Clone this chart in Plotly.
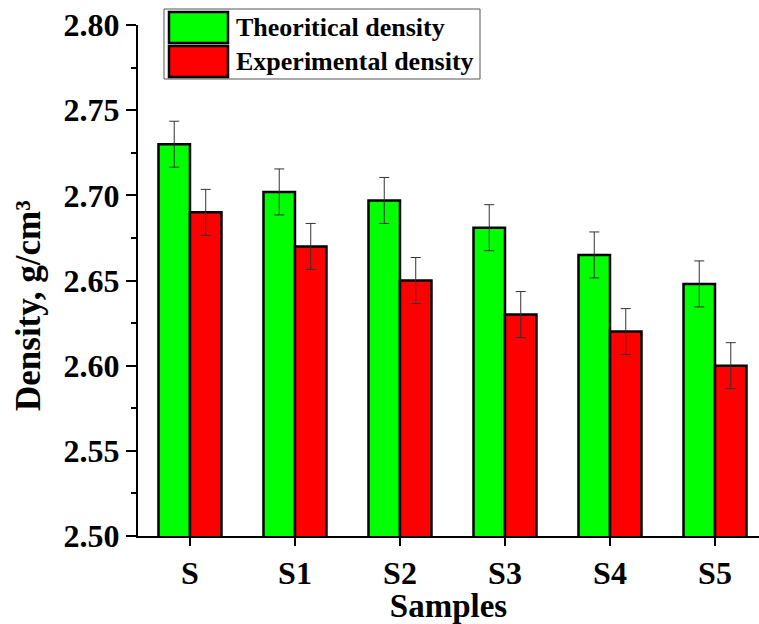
import plotly.graph_objects as go

samples = ["S", "S1", "S2", "S3", "S4", "S5"]
theoretical = [2.730, 2.702, 2.697, 2.681, 2.665, 2.648]
experimental = [2.690, 2.670, 2.650, 2.630, 2.620, 2.600]
theo_err = [0.0135, 0.0135, 0.0135, 0.0135, 0.0135, 0.0135]
exp_err = [0.0135, 0.0135, 0.0135, 0.0135, 0.0135, 0.0135]
series_names = ["Theoritical density", "Experimental density"]
colors = ["#00ff00", "#ff0000"]
y_title = "Density, g/cm³"

FONT = "Liberation Serif"

fig = go.Figure()
for name, vals, errs, col in zip(series_names, [theoretical, experimental], [theo_err, exp_err], colors):
    fig.add_trace(go.Bar(
        x=list(range(len(samples))), y=vals, name=name,
        marker=dict(color=col, line=dict(color="black", width=2.5)),
        error_y=dict(type="data", array=errs, visible=True, color="#333333", thickness=1, width=5),
        showlegend=False,
    ))

fig.update_layout(
    width=759, height=624,
    margin=dict(l=138, r=0, t=25, b=88),
    paper_bgcolor="white", plot_bgcolor="white",
    barmode="group", bargap=0.4, bargroupgap=0,
    font=dict(family=FONT, color="black"),
)
fig.update_xaxes(
    range=[-0.495, 5.419],
    tickmode="array", tickvals=list(range(len(samples))), ticktext=samples,
    showline=True, linecolor="black", linewidth=2,
    ticks="outside", ticklen=8, tickwidth=2, tickcolor="black",
    tickfont=dict(family=FONT, size=32, weight="bold"),
    title=dict(text="Samples", font=dict(family=FONT, size=33, weight="bold"), standoff=3),
    showgrid=False, zeroline=False,
)
fig.update_yaxes(
    range=[2.5, 2.8], dtick=0.05, tickformat=".2f",
    showline=True, linecolor="black", linewidth=2,
    ticks="outside", ticklen=10, tickwidth=2, tickcolor="black",
    minor=dict(dtick=0.025, ticks="outside", ticklen=5, tickwidth=2, tickcolor="black"),
    tickfont=dict(family=FONT, size=32, weight="bold"),
    showgrid=False, zeroline=False,
)

pl, pt, pw, ph = 138, 25, 759 - 138, 624 - 25 - 88
def px(x):
    return (x - pl) / pw
def py(y):
    return 1 - (y - pt) / ph

# y-axis title
fig.add_annotation(xref="paper", yref="paper", x=px(28), y=py(306),
                   text=y_title, textangle=-90, showarrow=False,
                   xanchor="center", yanchor="middle",
                   font=dict(family=FONT, size=35, weight="bold", color="black"))

# custom legend with large swatches
fig.add_shape(type="rect", xref="paper", yref="paper",
              x0=px(164), x1=px(480), y0=py(79), y1=py(9),
              line=dict(color="#555555", width=1), fillcolor="white")
rows = [(12, 43), (46, 77)]
for (y0, y1), name, col in zip(rows, series_names, colors):
    fig.add_shape(type="rect", xref="paper", yref="paper",
                  x0=px(169), x1=px(228), y0=py(y1), y1=py(y0),
                  line=dict(color="black", width=2.5), fillcolor=col)
    fig.add_annotation(xref="paper", yref="paper", x=px(234), y=py((y0 + y1) / 2),
                       text=name, showarrow=False, xanchor="left", yanchor="middle",
                       font=dict(family=FONT, size=26, weight="bold", color="black"))

fig.write_html("out.html")
